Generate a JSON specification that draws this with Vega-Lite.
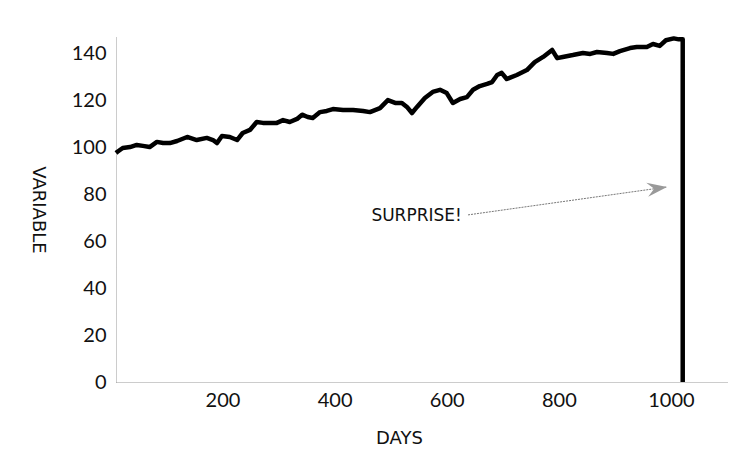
{
  "$schema": "https://vega.github.io/schema/vega-lite/v6.json",
  "width": 611,
  "height": 345,
  "autosize": {"type": "none"},
  "padding": {"left": 116, "top": 37, "right": 23, "bottom": 85},
  "background": "white",
  "config": {
    "view": {"stroke": null},
    "font": "Lato",
    "axis": {"labelFont": "Lato", "titleFont": "DejaVu Sans", "labelColor": "#111", "titleColor": "#111", "titleFontWeight": "normal"}
  },
  "datasets": {
    "series": [
      {"day": 10, "value": 97.6},
      {"day": 12, "value": 98.0},
      {"day": 22, "value": 99.7},
      {"day": 35, "value": 100.1},
      {"day": 47, "value": 101.0},
      {"day": 58, "value": 100.6},
      {"day": 70, "value": 100.1},
      {"day": 83, "value": 102.3},
      {"day": 94, "value": 101.8},
      {"day": 106, "value": 101.8},
      {"day": 119, "value": 102.7},
      {"day": 137, "value": 104.4},
      {"day": 154, "value": 103.1},
      {"day": 172, "value": 104.0},
      {"day": 183, "value": 103.1},
      {"day": 190, "value": 101.8},
      {"day": 199, "value": 104.8},
      {"day": 213, "value": 104.4},
      {"day": 226, "value": 103.1},
      {"day": 236, "value": 106.1},
      {"day": 249, "value": 107.4},
      {"day": 261, "value": 110.8},
      {"day": 272, "value": 110.4},
      {"day": 285, "value": 110.4},
      {"day": 297, "value": 110.4},
      {"day": 308, "value": 111.6},
      {"day": 320, "value": 110.8},
      {"day": 333, "value": 112.1},
      {"day": 342, "value": 113.9},
      {"day": 352, "value": 112.9},
      {"day": 361, "value": 112.5},
      {"day": 374, "value": 115.0},
      {"day": 386, "value": 115.5},
      {"day": 397, "value": 116.3},
      {"day": 415, "value": 115.9},
      {"day": 433, "value": 115.9},
      {"day": 451, "value": 115.5},
      {"day": 463, "value": 115.0},
      {"day": 481, "value": 116.7},
      {"day": 495, "value": 120.1},
      {"day": 508, "value": 118.9},
      {"day": 520, "value": 118.9},
      {"day": 529, "value": 117.2},
      {"day": 538, "value": 114.6},
      {"day": 547, "value": 117.2},
      {"day": 561, "value": 121.0},
      {"day": 575, "value": 123.6},
      {"day": 588, "value": 124.5},
      {"day": 600, "value": 123.1},
      {"day": 611, "value": 118.9},
      {"day": 624, "value": 120.6},
      {"day": 636, "value": 121.4},
      {"day": 647, "value": 124.5},
      {"day": 659, "value": 126.1},
      {"day": 672, "value": 127.0},
      {"day": 681, "value": 127.8},
      {"day": 690, "value": 130.8},
      {"day": 698, "value": 131.7},
      {"day": 707, "value": 129.1},
      {"day": 725, "value": 130.8},
      {"day": 743, "value": 132.9},
      {"day": 757, "value": 136.3},
      {"day": 772, "value": 138.5},
      {"day": 788, "value": 141.5},
      {"day": 797, "value": 138.0},
      {"day": 807, "value": 138.5},
      {"day": 825, "value": 139.3},
      {"day": 843, "value": 140.2},
      {"day": 856, "value": 139.8},
      {"day": 868, "value": 140.6},
      {"day": 886, "value": 140.2},
      {"day": 897, "value": 139.8},
      {"day": 909, "value": 141.0},
      {"day": 927, "value": 142.3},
      {"day": 939, "value": 142.7},
      {"day": 957, "value": 142.7},
      {"day": 968, "value": 144.0},
      {"day": 980, "value": 143.2},
      {"day": 991, "value": 145.6},
      {"day": 1005, "value": 146.4},
      {"day": 1014, "value": 146.0},
      {"day": 1021, "value": 146.0},
      {"day": 1021, "value": 0}
    ],
    "arrow": [
      {"day": 638, "value": 71.2, "day2": 993, "value2": 83.1}
    ],
    "label": [
      {"day": 627, "value": 70.7, "text": "SURPRISE!"}
    ]
  },
  "layer": [
    {
      "data": {"name": "series"},
      "mark": {"type": "line", "color": "#000", "strokeWidth": 4.5, "strokeJoin": "round"},
      "encoding": {
        "x": {
          "field": "day", "type": "quantitative",
          "scale": {"domain": [10, 1100], "nice": false, "zero": false},
          "axis": {
            "title": "DAYS", "titleFontSize": 18, "titlePadding": 19, "titleX": 283,
            "values": [200, 400, 600, 800, 1000], "format": "d",
            "labelFontSize": 20, "labelPadding": 8,
            "ticks": false, "grid": false,
            "domainColor": "#999", "domainDash": [1, 1], "domainWidth": 1
          }
        },
        "y": {
          "field": "value", "type": "quantitative",
          "scale": {"domain": [0, 147], "nice": false},
          "axis": {
            "title": "VARIABLE", "titleFontSize": 18, "titleAngle": 90, "titlePadding": 43,
            "values": [0, 20, 40, 60, 80, 100, 120, 140],
            "labelFontSize": 20, "labelPadding": 10,
            "ticks": false, "grid": false,
            "domainColor": "#999", "domainDash": [1, 1], "domainWidth": 1
          }
        },
        "order": {"value": null}
      }
    },
    {
      "data": {"name": "arrow"},
      "mark": {"type": "rule", "color": "#777", "strokeWidth": 1, "strokeDash": [2, 1]},
      "encoding": {
        "x": {"field": "day", "type": "quantitative"},
        "y": {"field": "value", "type": "quantitative"},
        "x2": {"field": "day2"},
        "y2": {"field": "value2"}
      }
    },
    {
      "data": {"name": "arrow"},
      "mark": {"type": "point", "filled": true, "color": "#999", "opacity": 1, "size": 400, "angle": -8, "shape": "M0,0 L-2,-0.7 L-1.3,0 L-2,0.7 Z"},
      "encoding": {
        "x": {"field": "day2", "type": "quantitative"},
        "y": {"field": "value2", "type": "quantitative"}
      }
    },
    {
      "data": {"name": "label"},
      "mark": {"type": "text", "align": "right", "baseline": "middle", "fontSize": 17, "font": "DejaVu Sans", "color": "#111"},
      "encoding": {
        "x": {"field": "day", "type": "quantitative"},
        "y": {"field": "value", "type": "quantitative"},
        "text": {"field": "text"}
      }
    }
  ]
}
